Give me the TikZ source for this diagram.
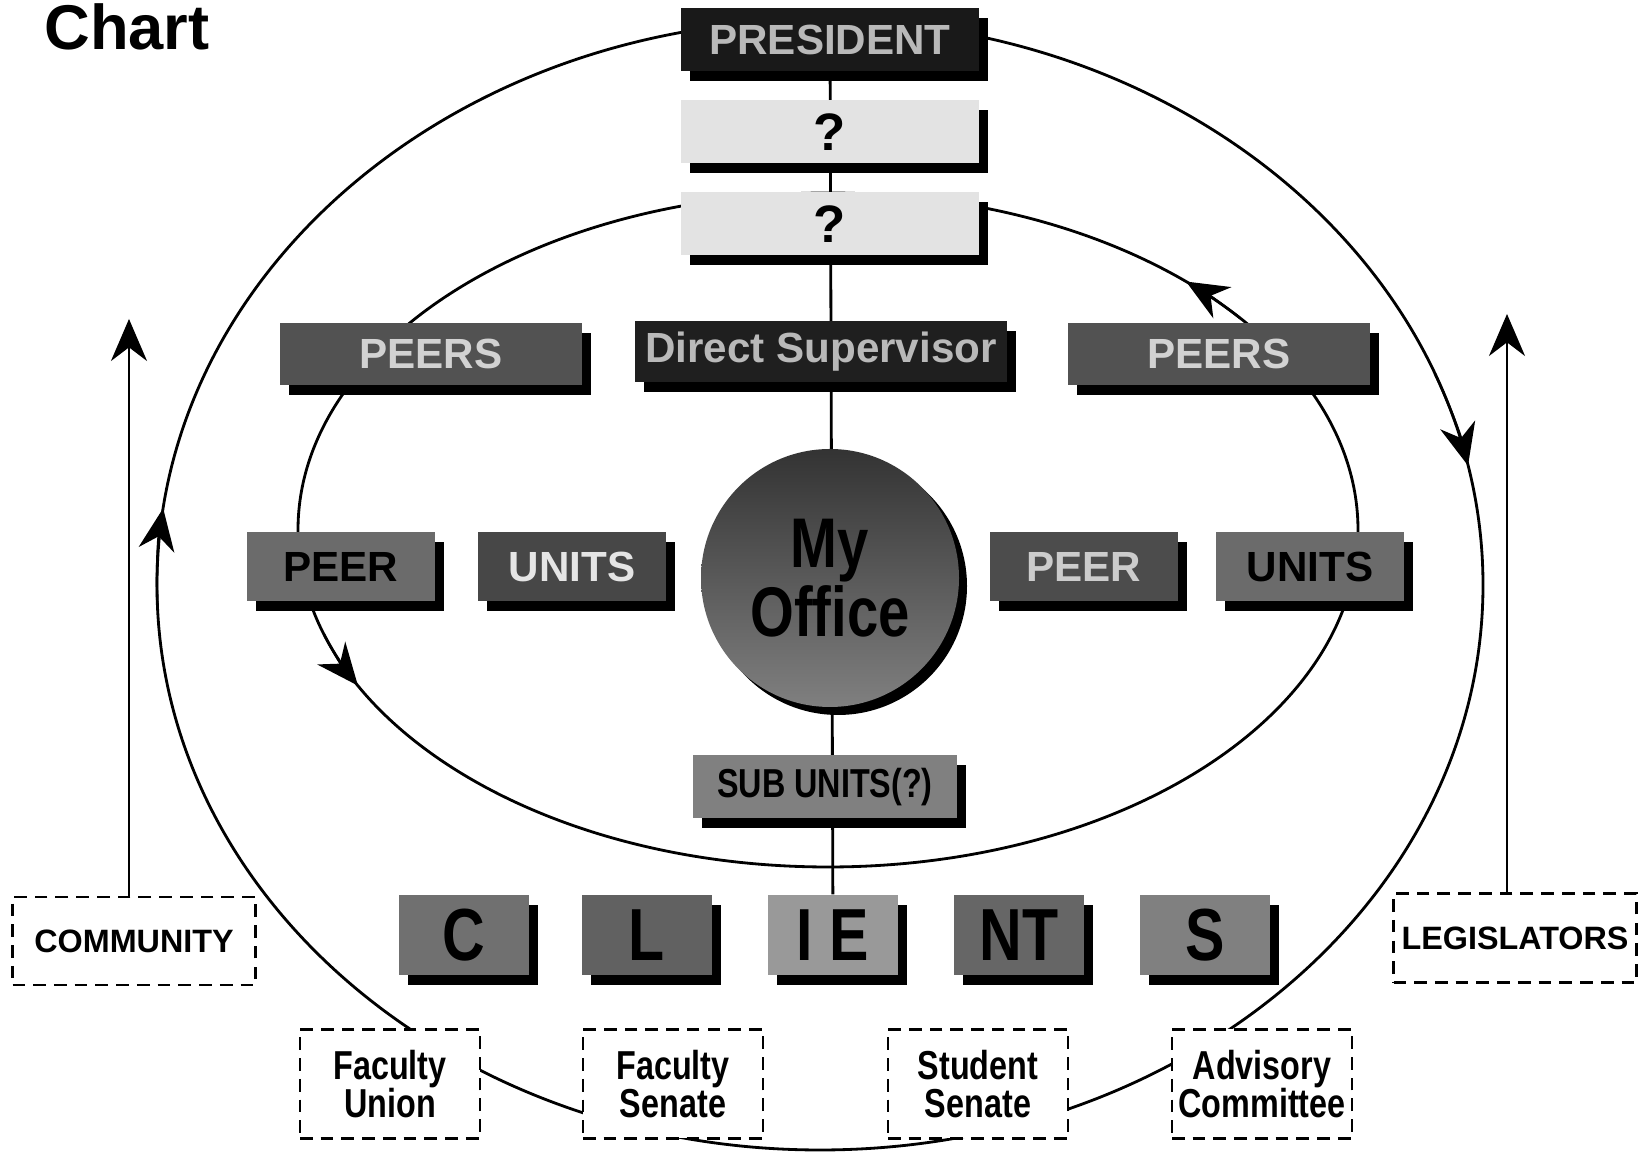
\documentclass[tikz,border=0pt]{standalone}
\usepackage{fontspec}
\setmainfont{Liberation Sans}
\newfontfamily\narrowfont[FakeStretch=0.8]{Liberation Sans}
\usetikzlibrary{arrows.meta, shadows, backgrounds}

\tikzset{
  unit/.style={fill=gray!60, text=black, inner sep=0pt,
    font=\bfseries\fontsize{12}{14}\selectfont,
    minimum width=1.88cm, minimum height=0.69cm,
    drop shadow={shadow xshift=0.09cm, shadow yshift=-0.1cm, fill=black, opacity=1}},
  letter/.style={unit, font=\narrowfont\bfseries\fontsize{21}{24}\selectfont,
    minimum width=1.30cm, minimum height=0.80cm},
  outside/.style={draw, dash pattern=on 3.6pt off 2.3pt, line width=0.6pt,
    fill=white, align=center, inner sep=0pt},
  flow/.style={-{Stealth[length=0.42cm, width=0.36cm]}, line width=0.7pt},
}

\begin{document}
\begin{tikzpicture}
  \useasboundingbox (0,0) rectangle (16.39,11.52);

  \node[anchor=west, font=\bfseries\fontsize{18}{20}\selectfont] (title) at (0.32,11.25) {Chart};

  % chain of command
  \node[unit, fill=black!90, text=gray!55, minimum width=2.98cm, minimum height=0.63cm] (pres) at (8.30,11.12) {PRESIDENT};
  \node[unit, fill=gray!22, minimum width=2.98cm, minimum height=0.63cm, font=\bfseries\fontsize{15}{16}\selectfont] (q1) at (8.30,10.20) {?};
  \node[unit, fill=gray!22, minimum width=2.98cm, minimum height=0.63cm, font=\bfseries\fontsize{15}{16}\selectfont] (q2) at (8.30,9.28) {?};
  \node[unit, fill=black!88, text=gray!55, minimum width=3.72cm, minimum height=0.61cm] (sup) at (8.21,8.00) {Direct Supervisor};

  \node[unit, fill=black!68, text=gray!35, minimum width=3.02cm, minimum height=0.62cm] (peersL) at (4.31,7.98) {PEERS};
  \node[unit, fill=black!68, text=gray!35, minimum width=3.02cm, minimum height=0.62cm] (peersR) at (12.19,7.98) {PEERS};

  \node[unit, fill=black!58] (peerL) at (3.41,5.85) {PEER};
  \node[unit, fill=black!72, text=gray!20] (unitsL) at (5.72,5.85) {UNITS};
  \node[unit, fill=black!70, text=gray!40] (peerR) at (10.84,5.85) {PEER};
  \node[unit, fill=black!58] (unitsR) at (13.10,5.85) {UNITS};

  \node[circle, minimum size=2.58cm, inner sep=0pt, top color=black!80, bottom color=black!50,
    drop shadow={shadow xshift=0.08cm, shadow yshift=-0.08cm, fill=black, opacity=1},
    align=center, font=\narrowfont\bfseries\fontsize{20}{18}\selectfont] (office) at (8.30,5.74) {My\\Office};

  \node[unit, fill=black!50, minimum width=2.64cm, minimum height=0.63cm,
    font=\narrowfont\bfseries\fontsize{11.5}{13}\selectfont] (subunits) at (8.25,3.65) {SUB UNITS(?)};

  % clients
  \foreach \name/\x/\shade/\txt in {c/4.64/56/C, l/6.47/62/L, ie/8.33/40/I E, nt/10.19/60/NT, s/12.05/50/S}
    \node[letter, fill=black!\shade] (\name) at (\x,2.17) {\txt};

  % outside groups
  \node[outside, minimum width=2.43cm, minimum height=0.88cm, font=\bfseries\fontsize{9.2}{11}\selectfont] (community) at (1.34,2.11) {COMMUNITY};
  \node[outside, minimum width=2.43cm, minimum height=0.89cm, font=\bfseries\fontsize{9.2}{11}\selectfont] (legislators) at (15.15,2.14) {LEGISLATORS};
  \foreach \name/\x/\txt in {funion/3.90/Faculty\\Union, fsenate/6.73/Faculty\\Senate, ssenate/9.78/Student\\Senate, advisory/12.62/Advisory\\Committee}
    \node[outside, minimum width=1.80cm, minimum height=1.09cm, font=\narrowfont\bfseries\fontsize{11.5}{11}\selectfont] (\name) at (\x,0.68) {\txt};

  \begin{pgfonlayer}{background}
    \coordinate (outc) at (8.20,5.67);
    \coordinate (innc) at (8.28,6.22);
    \draw[line width=0.8pt] (outc) ellipse [x radius=6.63cm, y radius=5.65cm];
    \draw[line width=0.8pt] (innc) ellipse [x radius=5.30cm, y radius=3.37cm];
    \draw[line width=0.8pt] (pres) -- (ie);
  \end{pgfonlayer}

  % direction of the loops
  \draw[flow] ([shift={(outc)}]182:6.63cm and 5.65cm) arc[start angle=182, end angle=172.2, x radius=6.63cm, y radius=5.65cm];
  \draw[flow] ([shift={(outc)}]22:6.63cm and 5.65cm) arc[start angle=22, end angle=12.2, x radius=6.63cm, y radius=5.65cm];
  \draw[flow] ([shift={(innc)}]198:5.30cm and 3.37cm) arc[start angle=198, end angle=207.5, x radius=5.30cm, y radius=3.37cm];
  \draw[flow] ([shift={(innc)}]39:5.30cm and 3.37cm) arc[start angle=39, end angle=47.5, x radius=5.30cm, y radius=3.37cm];

  \coordinate (commtip) at (1.29,8.33);
  \coordinate (legtip) at (15.07,8.38);
  \draw[flow] (community.north -| commtip) -- (commtip);
  \draw[flow] (legislators.north -| legtip) -- (legtip);
\end{tikzpicture}
\end{document}
